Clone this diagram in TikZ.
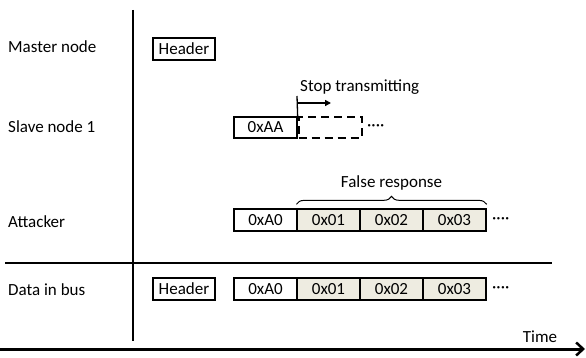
\documentclass[tikz,border=0pt]{standalone}
\usepackage{fontspec}
\setmainfont{Carlito}
\usetikzlibrary{arrows.meta,decorations.pathreplacing,calc}
\definecolor{tan}{HTML}{EEECE1}
\begin{document}
\begin{tikzpicture}[x=1pt,y=-1pt,
  every node/.style={font=\fontsize{17}{20}\selectfont, inner sep=0pt},
  box/.style={draw, line width=1.3pt, minimum width=63pt, minimum height=22pt, fill=white},
  tanbox/.style={box, fill=tan},
  dbox/.style={draw, line width=2pt, dash pattern=on 8pt off 5pt, minimum width=63pt, minimum height=21pt},
  lbl/.style={anchor=west},
  dots/.style={anchor=west}]
\useasboundingbox (0,0) rectangle (586,358);
% axes
\coordinate (vtop) at (133,10);
\coordinate (vbot) at (133,341);
\draw[line width=1.4pt] (vtop) -- (vbot);
\coordinate (sl) at (5,263);
\coordinate (sr) at (552,263);
\draw[line width=1.2pt] (sl) -- (sr);
\coordinate (tl) at (0,349);
\coordinate (tr) at (585,349);
\draw[line width=3pt, -{Straight Barb[length=7pt,width=13pt,line width=2.5pt]}] (tl) -- (tr);
\node (time) at (540,337) {Time};
% labels
\node[lbl] (master) at (8,47) {Master node};
\node[lbl] (slave) at (8,127) {Slave node 1};
\node[lbl] (att) at (8,222) {Attacker};
\node[lbl] (bus) at (8,290) {Data in bus};
% master
\node[box, minimum width=62pt] (mh) at (184,49) {Header};
% slave
\node[box, minimum height=21pt] (aa) at (265.5,127.5) {0xAA};
\node[dbox, anchor=west] (dash) at (aa.east) {};
\node[dots] (sdots) at (367,128) {····};
\coordinate (stopbot) at (aa.north east);
\coordinate (stoptop) at (297,96);
\draw[line width=1.3pt] (stopbot) -- (stoptop);
\coordinate (arrs) at (297,103);
\coordinate (arre) at (331,103);
\draw[line width=1.8pt, -{Triangle[length=6pt,width=6pt]}] (arrs) -- (arre);
\node[anchor=west] (stop) at (300,87) {Stop transmitting};
% attacker
\node[box] (a0) at (265.5,220) {0xA0};
\node[tanbox] (a1) at (328.5,220) {0x01};
\node[tanbox] (a2) at (391.5,220) {0x02};
\node[tanbox] (a3) at (454.5,220) {0x03};
\node[dots] (adots) at (492,221) {····};
\coordinate (bl) at ($(a1.north west)+(0,-4)$);
\coordinate (br) at ($(a3.north east)+(0,-4)$);
\draw[line width=1pt, decorate, decoration={brace, amplitude=8pt, aspect=0.5}] (bl) -- (br);
\node (fr) at (391.5,183) {False response};
% bus
\node[box, minimum width=62pt] (bh) at (184,289) {Header};
\node[box] (b0) at (265.5,289) {0xA0};
\node[tanbox] (b1) at (328.5,289) {0x01};
\node[tanbox] (b2) at (391.5,289) {0x02};
\node[tanbox] (b3) at (454.5,289) {0x03};
\node[dots] (bdots) at (492,290) {····};
\end{tikzpicture}
\end{document}
